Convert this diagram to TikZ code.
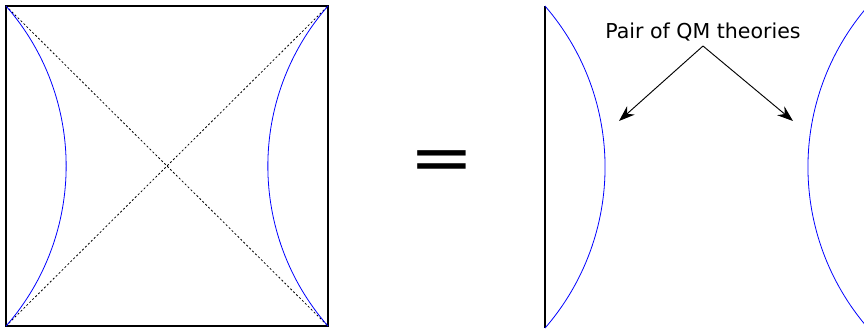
\documentclass[tikz,border=0pt]{standalone}
\usepackage{fontspec}
\setmainfont{DejaVu Sans}
\usetikzlibrary{arrows.meta,positioning}

\begin{document}
\begin{tikzpicture}[
      x=0.75pt, y=0.75pt,
      frame/.style={draw, line width=0.8pt},
      horizon/.style={line width=0.6pt, dash pattern=on 1.5pt off 1.6pt},
      bdry/.style={blue, line width=0.6pt},
      pointer/.style={-{Stealth[length=4.2mm, width=3mm]}, line width=0.7pt},
      lbl/.style={font=\fontsize{15.4}{18}\selectfont, inner sep=1pt},
    ]
    \useasboundingbox (0,0) rectangle (864,329);
    \clip (0,0) rectangle (864,329);

    % --- Penrose square with both boundaries ------------------------------
    \coordinate (tl) at (6,323);
    \coordinate (tr) at (328,323);
    \coordinate (bl) at (6,3);
    \coordinate (br) at (328,3);
    \draw[frame] (bl) rectangle (tr);
    \draw[horizon] (tl) -- (br);
    \draw[horizon] (bl) -- (tr);
    \draw[bdry] (tl) arc[start angle=41.2, end angle=-41.2, radius=243];
    \draw[bdry] (tr) arc[start angle=138.8, end angle=221.2, radius=243];

    % --- equals sign ------------------------------------------------------
    \node[font=\fontsize{58}{58}\selectfont, inner sep=0pt, yscale=0.85]
      (eq) at (442,163) {=};

    % --- the two boundary theories ----------------------------------------
    \coordinate (ltop) at (545,323);
    \coordinate (lbot) at (545,1);
    \coordinate (rtop) at (868,323);
    \draw[frame] (ltop) -- (lbot);
    \draw[bdry] (ltop) arc[start angle=40.9, end angle=-40.9, radius=246];
    \draw[bdry] (rtop) arc[start angle=139.1, end angle=220.9, radius=246];

    % --- label and pointers -----------------------------------------------
    \node[lbl] (pair) at (703,297) {Pair of QM theories};
    \coordinate (fork) at (703,283);
    \coordinate (lefttip) at (619,208);
    \coordinate (righttip) at (793,208);
    \draw[pointer] (fork) -- (lefttip);
    \draw[pointer] (fork) -- (righttip);
  \end{tikzpicture}
\end{document}
